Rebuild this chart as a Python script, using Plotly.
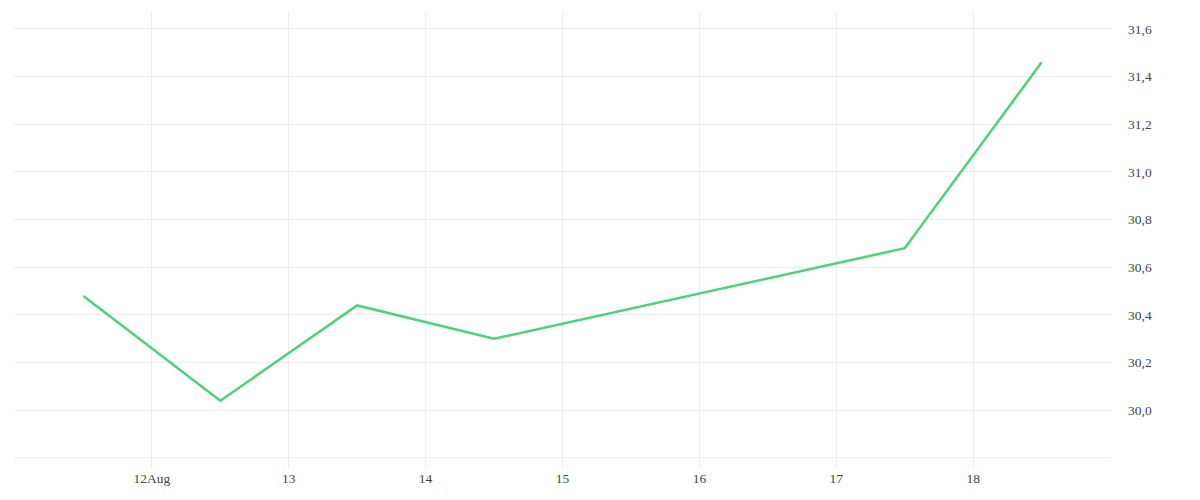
import plotly.graph_objects as go
import pandas as pd

# price points (noon timestamps)
dates = pd.to_datetime([
    "2024-08-11 12:00", "2024-08-12 12:00", "2024-08-13 12:00",
    "2024-08-14 12:00", "2024-08-17 12:00", "2024-08-18 12:00",
])
prices = [30.48, 30.04, 30.44, 30.30, 30.68, 31.46]

# axis ticks
x_tickvals = pd.date_range("2024-08-11", "2024-08-19", freq="D")
x_ticktext = ["", "12Aug", "13", "14", "15", "16", "17", "18", ""]
y_tickvals = [29.8, 30.0, 30.2, 30.4, 30.6, 30.8, 31.0, 31.2, 31.4, 31.6]
y_ticktext = [""] + [f"{v:.1f}".replace(".", ",") for v in y_tickvals[1:]]

GRID = "#ededed"

fig = go.Figure()
fig.add_trace(go.Scatter(x=dates, y=prices, mode="lines",
                         line=dict(color="#4cd27b", width=2.5),
                         showlegend=False))

fig.update_layout(
    width=1200, height=500,
    margin=dict(l=6, r=97, t=4, b=40),
    paper_bgcolor="white", plot_bgcolor="white",
    font=dict(family="Liberation Serif, DejaVu Serif, serif", size=13.5, color="#444444"),
    xaxis=dict(range=["2024-08-10 23:50", "2024-08-19 00:10"],
               tickvals=x_tickvals, ticktext=x_ticktext,
               showgrid=True, gridcolor=GRID, gridwidth=1,
               zeroline=False, showline=False, ticks=""),
    yaxis=dict(range=[29.758, 31.671], side="right",
               tickvals=y_tickvals, ticktext=y_ticktext,
               showgrid=True, gridcolor=GRID, gridwidth=1,
               zeroline=False, showline=False, ticks="",
               ticklabelstandoff=16),
)

fig.write_html("out.html")
